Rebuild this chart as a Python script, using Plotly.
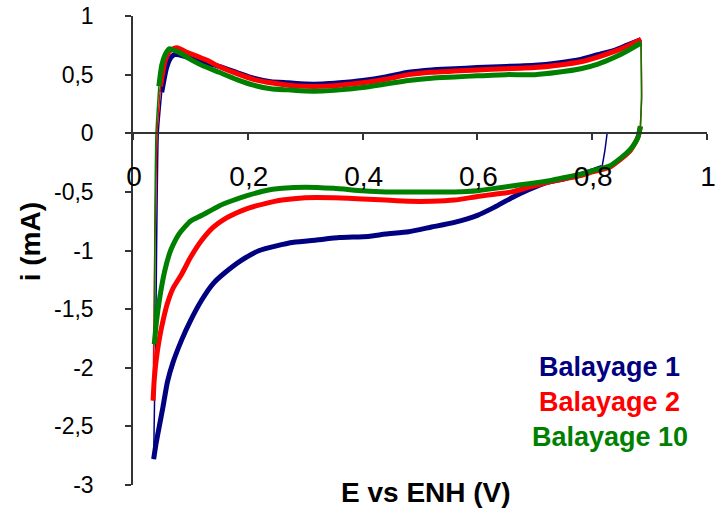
import plotly.graph_objects as go

# ---------------- data ----------------
x_tick_vals = [0, 0.2, 0.4, 0.6, 0.8, 1.0]
x_tick_text = ["0", "0,2", "0,4", "0,6", "0,8", "1"]
y_tick_vals = [1, 0.5, 0, -0.5, -1, -1.5, -2, -2.5, -3]
y_tick_text = ["1", "0,5", "0", "-0,5", "-1", "-1,5", "-2", "-2,5", "-3"]

series_names = ["Balayage 1", "Balayage 2", "Balayage 10"]
series_colors = ["#000080", "#FF0000", "#008000"]

# Balayage 1
b1_start_E = [0.826, 0.822, 0.817]
b1_start_I = [0.0, -0.15, -0.29]
b1_cath_E = [0.817, 0.80, 0.78, 0.75, 0.72, 0.69, 0.66, 0.63, 0.60, 0.56, 0.52, 0.48, 0.44, 0.41,
             0.36, 0.32, 0.28, 0.25, 0.22, 0.19, 0.16, 0.14, 0.12, 0.10, 0.085, 0.07, 0.06, 0.052,
             0.045, 0.040, 0.036]
b1_cath_I = [-0.29, -0.32, -0.35, -0.39, -0.42, -0.48, -0.55, -0.63, -0.70, -0.76, -0.80, -0.84, -0.86, -0.88,
             -0.89, -0.91, -0.93, -0.96, -1.00, -1.08, -1.19, -1.28, -1.42, -1.60, -1.76, -1.95, -2.12, -2.34,
             -2.52, -2.65, -2.78]
b1_rise_E = [0.036, 0.040, 0.044, 0.050]
b1_rise_I = [-2.78, -1.50, 0.0, 0.35]
b1_anod_E = [0.050, 0.058, 0.065, 0.072, 0.080, 0.10, 0.12, 0.15, 0.18, 0.21, 0.24, 0.27, 0.30, 0.33,
             0.36, 0.40, 0.44, 0.48, 0.52, 0.56, 0.60, 0.65, 0.70, 0.74, 0.78, 0.81, 0.84, 0.86, 0.885]
b1_anod_I = [0.35, 0.55, 0.64, 0.67, 0.67, 0.64, 0.61, 0.57, 0.52, 0.47, 0.44, 0.43, 0.42, 0.42,
             0.43, 0.45, 0.48, 0.52, 0.54, 0.55, 0.56, 0.57, 0.58, 0.60, 0.63, 0.67, 0.71, 0.75, 0.80]

# Balayage 2
b2_start_E = [0.885, 0.886, 0.884]
b2_start_I = [0.80, 0.30, 0.06]
b2_cath_E = [0.884, 0.88, 0.875, 0.866, 0.85, 0.83, 0.80, 0.78, 0.75, 0.72, 0.69, 0.66, 0.63, 0.60,
             0.56, 0.52, 0.48, 0.44, 0.40, 0.35, 0.30, 0.26, 0.23, 0.20, 0.18, 0.16, 0.14, 0.12,
             0.10, 0.085, 0.07, 0.06, 0.05, 0.045, 0.040, 0.037, 0.035]
b2_cath_I = [0.06, -0.03, -0.08, -0.15, -0.22, -0.29, -0.33, -0.36, -0.39, -0.42, -0.46, -0.50, -0.52, -0.54,
             -0.57, -0.58, -0.58, -0.57, -0.56, -0.55, -0.55, -0.57, -0.60, -0.64, -0.68, -0.73, -0.80, -0.91,
             -1.06, -1.20, -1.32, -1.45, -1.65, -1.78, -1.95, -2.10, -2.28]
b2_rise_E = [0.035, 0.038, 0.042, 0.048]
b2_rise_I = [-2.28, -1.00, 0.0, 0.40]
b2_anod_E = [0.048, 0.055, 0.062, 0.070, 0.077, 0.09, 0.11, 0.13, 0.15, 0.18, 0.21, 0.24, 0.27, 0.30,
             0.33, 0.36, 0.40, 0.44, 0.48, 0.52, 0.56, 0.60, 0.65, 0.70, 0.74, 0.78, 0.81, 0.84, 0.86, 0.885]
b2_anod_I = [0.40, 0.60, 0.69, 0.72, 0.73, 0.70, 0.66, 0.62, 0.57, 0.51, 0.46, 0.43, 0.41, 0.40,
             0.40, 0.41, 0.43, 0.46, 0.50, 0.52, 0.53, 0.54, 0.55, 0.56, 0.58, 0.61, 0.65, 0.70, 0.74, 0.80]

# Balayage 10
b10_start_E = [0.885, 0.886, 0.884]
b10_start_I = [0.78, 0.30, 0.06]
b10_cath_E = [0.884, 0.88, 0.875, 0.866, 0.85, 0.83, 0.80, 0.78, 0.75, 0.72, 0.69, 0.66, 0.63, 0.60,
              0.56, 0.52, 0.48, 0.44, 0.40, 0.35, 0.30, 0.26, 0.23, 0.20, 0.17, 0.15, 0.12, 0.10,
              0.09, 0.08, 0.07, 0.064, 0.055, 0.047, 0.041, 0.037]
b10_cath_I = [0.06, -0.03, -0.08, -0.14, -0.21, -0.28, -0.32, -0.35, -0.38, -0.41, -0.43, -0.45, -0.47, -0.49,
              -0.50, -0.50, -0.50, -0.50, -0.49, -0.47, -0.46, -0.47, -0.49, -0.53, -0.58, -0.62, -0.70, -0.75,
              -0.80, -0.86, -0.95, -1.02, -1.18, -1.39, -1.60, -1.80]
b10_rise_E = [0.037, 0.038, 0.040, 0.045]
b10_rise_I = [-1.80, -0.80, 0.0, 0.40]
b10_anod_E = [0.045, 0.050, 0.056, 0.063, 0.070, 0.080, 0.10, 0.12, 0.15, 0.18, 0.21, 0.24, 0.27, 0.30,
              0.33, 0.36, 0.40, 0.44, 0.48, 0.52, 0.56, 0.60, 0.65, 0.70, 0.74, 0.78, 0.81, 0.84, 0.86, 0.885]
b10_anod_I = [0.40, 0.58, 0.67, 0.72, 0.71, 0.69, 0.63, 0.58, 0.52, 0.46, 0.41, 0.38, 0.37, 0.36,
              0.36, 0.37, 0.39, 0.42, 0.45, 0.47, 0.48, 0.49, 0.50, 0.50, 0.52, 0.55, 0.59, 0.65, 0.70, 0.77]

series = [
    (b1_start_E, b1_start_I, b1_cath_E, b1_cath_I, b1_rise_E, b1_rise_I, b1_anod_E, b1_anod_I),
    (b2_start_E, b2_start_I, b2_cath_E, b2_cath_I, b2_rise_E, b2_rise_I, b2_anod_E, b2_anod_I),
    (b10_start_E, b10_start_I, b10_cath_E, b10_cath_I, b10_rise_E, b10_rise_I, b10_anod_E, b10_anod_I),
]

FONT = "Arial, 'Liberation Sans', sans-serif"
AXIS_COLOR = "#333333"

fig = go.Figure()
for name, color, (sE, sI, cE, cI, rE, rI, aE, aI) in zip(series_names, series_colors, series):
    for xs, ys, w in [(sE, sI, 1.5), (cE, cI, 5), (rE, rI, 1.5), (aE, aI, 5)]:
        fig.add_trace(go.Scatter(
            x=xs, y=ys, mode="lines", name=name, showlegend=False,
            line=dict(color=color, width=w, shape="spline", smoothing=0.5),
            hoverinfo="skip", cliponaxis=False,
        ))

fig.update_layout(
    width=716, height=508,
    margin=dict(l=133, r=9, t=16, b=23, autoexpand=False),
    paper_bgcolor="white", plot_bgcolor="white",
    font=dict(family=FONT, color="black"),
    showlegend=False,
    xaxis=dict(
        range=[0, 1], anchor="free", position=0.75, automargin=False,
        tickvals=x_tick_vals, ticktext=x_tick_text,
        tickfont=dict(size=28, family=FONT, color="black"),
        ticks="outside", ticklen=6, tickcolor=AXIS_COLOR, tickwidth=1.5,
        showline=True, linecolor=AXIS_COLOR, linewidth=1.5,
        showgrid=False, zeroline=False,
        ticklabelstandoff=12, ticklabelshift=1, ticklabeloverflow="allow",
    ),
    yaxis=dict(
        range=[-3, 1], domain=[0, 1], automargin=False,
        tickvals=y_tick_vals, ticktext=y_tick_text,
        tickfont=dict(size=23, family=FONT, color="black"),
        ticks="outside", ticklen=6, tickcolor=AXIS_COLOR, tickwidth=1.5,
        showline=True, linecolor=AXIS_COLOR, linewidth=1.5,
        showgrid=False, zeroline=False,
        ticklabelstandoff=27, ticklabeloverflow="allow",
    ),
)

# axis titles
fig.add_annotation(text="<b>E vs ENH (V)</b>", xref="paper", yref="paper",
                   x=0.51, y=-0.015, xanchor="center", yanchor="middle",
                   showarrow=False, font=dict(size=28, family=FONT, color="black"))
fig.add_annotation(text="<b>i (mA)</b>", xref="paper", yref="paper",
                   x=-0.179, y=0.518, xanchor="center", yanchor="middle", textangle=-90,
                   showarrow=False, font=dict(size=28, family=FONT, color="black"))

# legend labels
for name, color, yp in zip(series_names, series_colors, [0.2516, 0.177, 0.102]):
    fig.add_annotation(text="<b>%s</b>" % name, xref="paper", yref="paper",
                       x=0.831, y=yp, xanchor="center", yanchor="middle",
                       showarrow=False, font=dict(size=27, family=FONT, color=color))

fig.write_html("out.html", config={"displayModeBar": False},
               post_script="document.body.style.margin='0';document.body.style.overflow='hidden';")
